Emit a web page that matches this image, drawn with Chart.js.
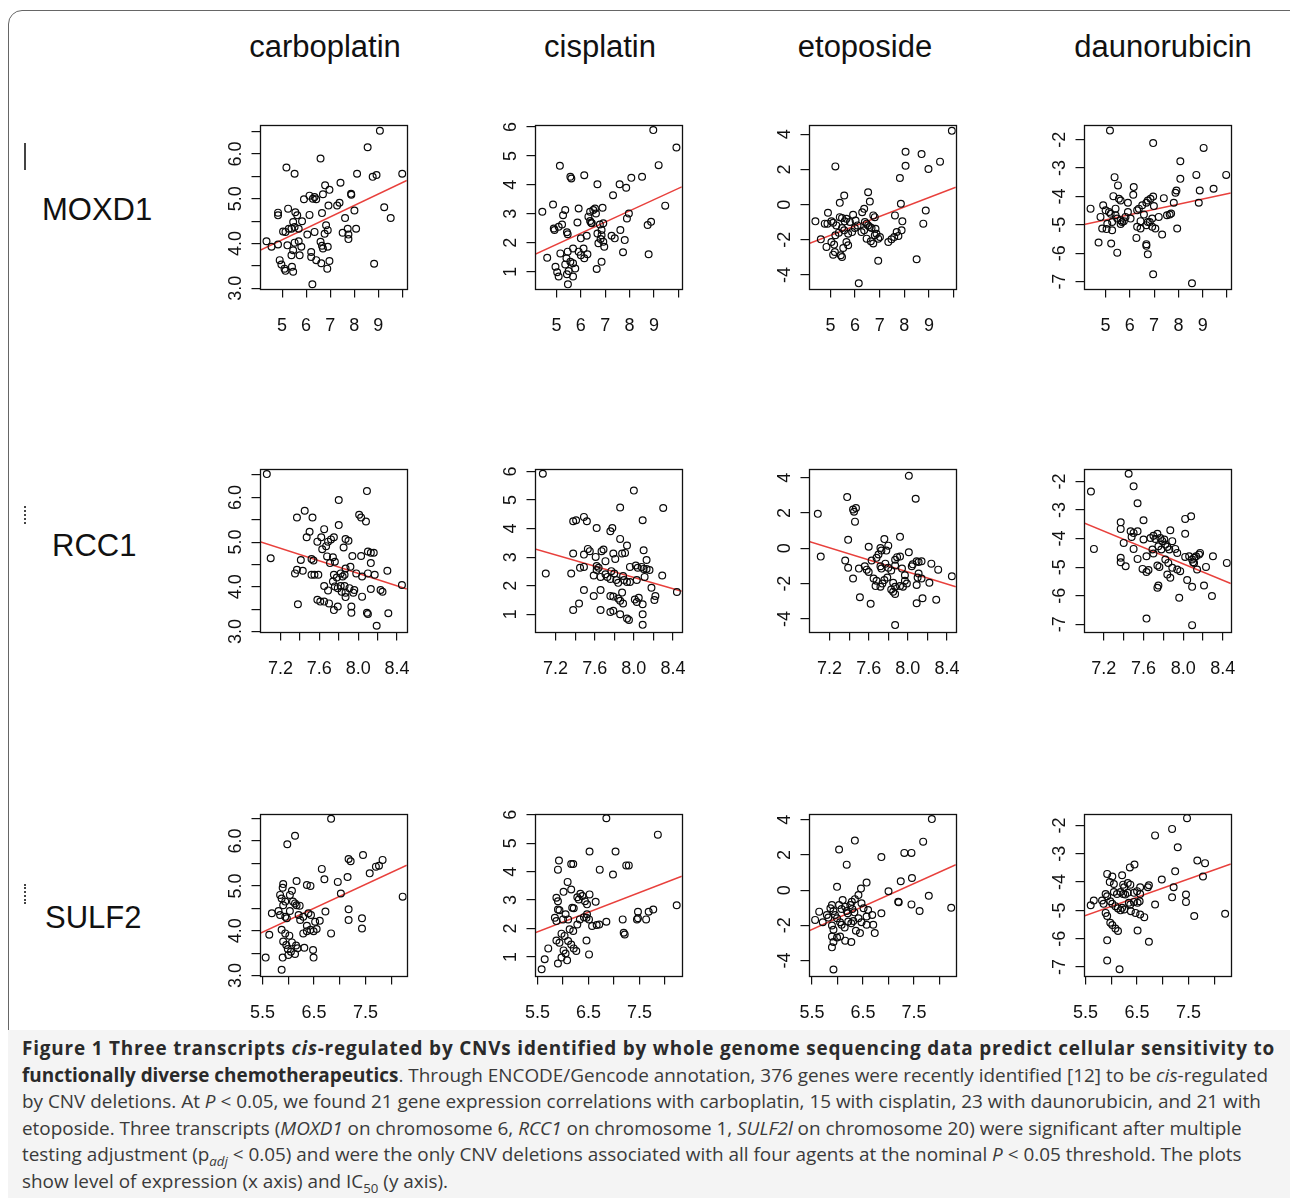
<!DOCTYPE html>
<html>
<head>
<meta charset="utf-8">
<script src="https://cdn.jsdelivr.net/npm/chart.js@4.4.0/dist/chart.umd.min.js"></script>
<style>
  body { margin: 0; width: 1290px; height: 1198px; background: #fff; position: relative; overflow: hidden;
         font-family: "Liberation Sans", Arial, sans-serif; }
  #frame { position: absolute; left: 8px; top: 10px; width: 1300px; height: 1060px;
           border: 1px solid #666; border-radius: 14px; box-sizing: border-box; }
  .title { position: absolute; font-size: 31px; color: #111; transform: translate(-50%, -50%); white-space: nowrap; }
  .gene { position: absolute; font-size: 31px; color: #111; transform: translateY(-50%); white-space: nowrap; }
  .mark { position: absolute; left: 24px; width: 0; border-left: 2px solid #444; }
  canvas { position: absolute; }
  #caption { position: absolute; left: 8px; top: 1030px; width: 1290px; height: 170px; background: #f4f4f4; }
  #captext { position: absolute; left: 22px; top: 1035px; font-family: "Open Sans", "Noto Sans", sans-serif;
             color: #3a3a3a; font-size: 17px; line-height: 26.6px; }
  #captext div { white-space: nowrap; width: max-content; }
  #captext b { color: #2a2a2a; }
  sub { font-size: 0.7em; line-height: 0; }
</style>
</head>
<body>
<div id="frame"></div>
<div id="caption"></div>

<script>
// drugs (columns) and genes (rows)
const drugs = ['carboplatin', 'cisplatin', 'etoposide', 'daunorubicin'];
const genes = ['MOXD1', 'RCC1', 'SULF2'];

// x ticks per gene (row)
const xTicksMOXD1 = [5, 6, 7, 8, 9, 10];
const xLabelsMOXD1 = ['5', '6', '7', '8', '9'];
const xTicksRCC1 = [7.2, 7.4, 7.6, 7.8, 8.0, 8.2, 8.4];
const xLabelsRCC1 = ['7.2', '7.6', '8.0', '8.4'];
const xTicksSULF2 = [5.5, 6.0, 6.5, 7.0, 7.5, 8.0];
const xLabelsSULF2 = ['5.5', '6.5', '7.5'];

// y ticks per drug (column)
const yTicksCarbo = [3.0, 3.5, 4.0, 4.5, 5.0, 5.5, 6.0, 6.5];
const yLabelsCarbo = ['3.0', '4.0', '5.0', '6.0'];
const yTicksCis = [1, 2, 3, 4, 5, 6];
const yLabelsCis = ['1', '2', '3', '4', '5', '6'];
const yTicksEto = [-4, -2, 0, 2, 4];
const yLabelsEto = ['-4', '-2', '0', '2', '4'];
const yTicksDauno = [-7, -6, -5, -4, -3, -2];
const yLabelsDauno = ['-7', '-6', '-5', '-4', '-3', '-2'];

// axis ranges [xmin, xmax, ymin, ymax]
const moxd1CarboRange = [4.08, 10.19, 2.985, 6.644];
const moxd1CisRange = [4.12, 10.14, 0.40, 6.06];
const moxd1EtoRange = [4.13, 10.09, -4.79, 4.51];
const moxd1DaunoRange = [4.11, 10.16, -7.26, -1.49];
const rcc1CarboRange = [6.99, 8.50, 2.99, 6.63];
const rcc1CisRange = [6.99, 8.49, 0.38, 6.08];
const rcc1EtoRange = [6.99, 8.49, -4.74, 4.48];
const rcc1DaunoRange = [7.00, 8.48, -7.27, -1.57];
const sulf2CarboRange = [5.45, 8.30, 2.99, 6.60];
const sulf2CisRange = [5.45, 8.33, 0.33, 6.02];
const sulf2EtoRange = [5.44, 8.32, -4.88, 4.32];
const sulf2DaunoRange = [5.47, 8.32, -7.32, -1.60];

// expression (x) vs IC50 (y)
const moxd1Carbo = [[9.07,6.52],[8.56,6.15],[6.6,5.9],[5.18,5.7],[5.52,5.56],[8.12,5.56],[10.0,5.56],[8.93,5.53],[8.77,5.49],[7.43,5.36],[6.79,5.3],[7.87,5.11],[7.88,5.09],[6.97,5.2],[6.35,5.04],[6.28,5.0],[5.91,4.99],[6.14,5.07],[6.42,4.99],[6.7,5.1],[9.25,4.81],[9.52,4.57],[7.39,4.91],[7.29,4.85],[6.93,4.85],[6.66,4.68],[8.01,4.74],[7.62,4.57],[4.83,4.69],[4.83,4.63],[5.25,4.78],[5.55,4.7],[5.63,4.63],[6.14,4.64],[5.83,4.5],[5.46,4.48],[5.52,4.37],[5.39,4.33],[5.28,4.33],[5.04,4.27],[5.14,4.26],[5.69,4.33],[6.35,4.26],[6.05,4.2],[6.83,4.41],[6.9,4.3],[6.77,4.22],[8.08,4.33],[7.73,4.33],[7.52,4.24],[7.76,4.2],[7.76,4.1],[4.35,4.05],[4.56,3.93],[4.83,3.98],[5.22,3.96],[5.52,4.02],[5.69,4.05],[5.8,3.93],[5.46,3.85],[5.39,3.74],[5.73,3.74],[6.21,3.81],[6.6,4.04],[6.66,3.95],[6.7,3.89],[6.9,3.93],[6.21,3.7],[6.42,3.63],[4.9,3.63],[4.97,3.53],[5.1,3.44],[5.41,3.48],[5.46,3.37],[5.14,3.39],[6.63,3.56],[6.97,3.61],[6.88,3.44],[8.83,3.55],[6.26,3.09]];
const moxd1Cis = [[8.97,5.89],[9.92,5.29],[5.14,4.66],[5.57,4.28],[5.61,4.22],[6.14,4.33],[6.68,4.02],[7.59,4.02],[7.86,3.9],[8.07,4.24],[8.51,4.28],[9.19,4.68],[7.32,3.64],[9.46,3.28],[4.42,3.07],[4.86,3.32],[5.36,3.13],[5.27,2.95],[5.91,3.18],[6.38,3.07],[6.58,3.18],[6.51,3.13],[6.89,3.21],[6.62,3.01],[6.31,2.9],[6.38,2.75],[6.42,2.69],[6.45,2.67],[5.86,2.7],[5.23,2.63],[5.09,2.55],[4.89,2.49],[4.92,2.44],[5.43,2.36],[5.46,2.29],[6.78,2.63],[6.92,2.67],[6.85,2.44],[6.68,2.32],[6.85,2.26],[6.81,2.13],[6.72,1.98],[6.92,2.03],[6.96,1.86],[7.26,2.24],[7.39,2.15],[7.62,2.44],[7.8,2.09],[7.97,3.01],[7.89,2.84],[8.74,2.61],[8.88,2.72],[8.78,1.6],[7.73,1.67],[6.24,2.24],[6.11,1.8],[6.27,1.6],[6.14,1.46],[5.91,1.69],[6.0,1.57],[5.68,1.8],[5.46,1.69],[5.16,1.63],[4.62,1.48],[5.41,1.46],[5.57,1.34],[5.36,1.25],[5.68,1.29],[5.77,1.11],[5.5,1.02],[4.96,1.17],[5.03,0.98],[5.09,0.83],[5.43,0.91],[5.68,0.83],[5.47,0.56],[6.65,1.09],[6.85,1.34],[6.0,2.15]];
const moxd1Eto = [[9.93,4.19],[8.05,3.0],[8.7,2.87],[9.45,2.44],[8.98,2.02],[8.05,2.21],[5.2,2.17],[7.82,1.51],[7.86,0.05],[8.87,-0.33],[8.77,-1.08],[8.5,-3.1],[6.94,-3.19],[6.15,-4.47],[5.56,0.52],[5.38,0.1],[6.53,0.7],[6.6,0.18],[6.37,-0.24],[6.29,-0.43],[6.74,-0.61],[6.8,-0.71],[5.92,-0.58],[4.9,-0.46],[4.39,-0.95],[4.77,-1.08],[4.88,-1.08],[5.04,-0.95],[5.11,-1.03],[5.24,-1.18],[5.38,-0.71],[5.47,-0.76],[5.65,-0.8],[5.58,-0.95],[5.79,-0.99],[6.02,-0.9],[6.1,-1.18],[6.4,-0.99],[6.47,-1.08],[6.53,-1.18],[6.6,-1.27],[6.67,-1.33],[6.37,-1.46],[6.26,-1.56],[6.83,-1.37],[6.8,-1.74],[6.47,-1.93],[6.64,-2.08],[6.74,-2.21],[6.94,-1.93],[7.01,-1.84],[6.87,-1.65],[7.35,-2.12],[7.48,-1.97],[7.59,-1.84],[7.69,-1.56],[7.89,-1.46],[7.76,-1.78],[7.62,-0.61],[7.92,-0.95],[5.47,-1.33],[5.56,-1.46],[5.34,-1.59],[5.2,-1.74],[5.72,-1.65],[5.88,-1.56],[4.61,-1.97],[5.04,-2.12],[5.15,-2.27],[4.84,-2.4],[5.65,-2.12],[5.72,-2.31],[5.52,-2.46],[5.18,-2.69],[5.11,-2.84],[5.42,-2.87],[5.47,-2.97],[5.99,-1.33]];
const moxd1Dauno = [[5.18,-1.68],[6.96,-2.12],[9.04,-2.29],[8.08,-2.76],[8.74,-3.24],[9.97,-3.24],[8.08,-3.38],[5.37,-3.32],[5.51,-3.61],[9.45,-3.73],[8.88,-3.79],[8.84,-4.22],[7.92,-3.79],[7.88,-3.87],[7.81,-4.22],[6.16,-3.67],[6.14,-3.94],[5.32,-3.99],[5.55,-4.08],[5.62,-4.14],[5.92,-4.22],[4.38,-4.43],[4.9,-4.31],[5.0,-4.49],[5.14,-4.55],[5.21,-4.61],[5.41,-4.43],[5.41,-4.66],[5.48,-4.78],[5.62,-4.84],[5.68,-4.9],[5.75,-4.87],[5.27,-4.9],[5.07,-4.96],[4.79,-4.72],[4.86,-5.13],[5.04,-5.15],[5.27,-5.19],[5.82,-4.72],[6.03,-4.78],[5.92,-4.55],[6.3,-4.49],[6.37,-4.43],[6.51,-4.31],[6.68,-4.22],[6.74,-4.14],[6.85,-4.08],[6.96,-4.0],[6.99,-4.34],[6.58,-4.64],[6.44,-4.87],[6.3,-5.07],[6.44,-5.13],[6.68,-5.01],[6.74,-4.9],[6.92,-4.78],[6.82,-4.9],[6.92,-5.07],[7.05,-5.13],[7.19,-4.72],[7.4,-4.06],[7.53,-4.66],[7.64,-4.64],[7.7,-4.6],[7.95,-5.13],[7.33,-5.34],[6.27,-5.46],[5.23,-5.66],[4.71,-5.62],[5.48,-5.98],[6.68,-5.68],[6.68,-5.74],[6.74,-6.04],[6.96,-6.74],[8.56,-7.06],[5.62,-4.97]];

const rcc1Carbo = [[7.06,6.52],[8.09,6.14],[7.8,5.94],[7.45,5.7],[7.37,5.55],[7.53,5.55],[8.01,5.61],[8.03,5.55],[8.08,5.46],[7.8,5.38],[7.5,5.23],[7.47,5.11],[7.65,5.29],[7.62,5.11],[7.58,5.01],[7.69,5.01],[7.72,5.06],[7.75,5.11],[7.67,4.91],[7.63,4.84],[7.87,5.07],[7.9,5.03],[7.85,4.88],[7.1,4.64],[7.41,4.6],[7.52,4.62],[7.54,4.59],[7.68,4.68],[7.74,4.66],[7.71,4.53],[7.76,4.56],[7.94,4.69],[8.03,4.69],[8.1,4.79],[8.13,4.76],[8.16,4.76],[8.13,4.53],[7.87,4.41],[7.92,4.45],[7.98,4.3],[8.04,4.23],[8.1,4.3],[8.17,4.27],[8.3,4.36],[7.37,4.38],[7.35,4.3],[7.43,4.36],[7.52,4.27],[7.55,4.27],[7.59,4.27],[7.75,4.27],[7.78,4.21],[7.82,4.3],[7.84,4.23],[7.86,4.27],[7.65,4.02],[7.74,4.12],[7.76,4.01],[7.79,3.97],[7.82,4.02],[7.86,4.02],[7.69,3.92],[7.83,3.89],[7.87,3.87],[7.91,3.97],[7.96,3.93],[8.13,3.95],[8.23,3.93],[8.25,3.89],[8.45,4.04],[8.04,3.78],[7.87,3.77],[7.58,3.71],[7.61,3.67],[7.65,3.67],[7.7,3.63],[7.38,3.61],[7.79,3.56],[7.75,3.48],[7.93,3.56],[7.93,3.42],[8.09,3.42],[8.1,3.39],[8.31,3.41],[8.19,3.13],[7.95,3.87]];
const rcc1Cis = [[7.07,5.92],[8.0,5.33],[7.86,4.74],[8.3,4.72],[8.09,4.29],[7.38,4.26],[7.41,4.29],[7.49,4.41],[7.52,4.26],[7.62,4.02],[7.76,3.91],[7.78,4.02],[7.86,3.64],[7.93,3.41],[7.53,3.29],[7.55,3.21],[7.38,3.13],[7.49,3.09],[7.61,3.01],[7.67,3.21],[7.69,3.27],[7.79,3.13],[7.88,3.13],[7.91,3.15],[7.71,2.86],[7.81,2.94],[8.1,3.24],[8.13,2.9],[7.1,2.43],[7.36,2.43],[7.45,2.63],[7.49,2.66],[7.62,2.69],[7.64,2.63],[7.62,2.55],[7.59,2.36],[7.66,2.31],[7.71,2.4],[7.73,2.31],[7.76,2.24],[7.77,2.51],[7.8,2.43],[7.82,2.2],[7.84,2.1],[7.89,2.34],[7.9,2.2],[7.96,2.66],[8.02,2.71],[8.04,2.63],[8.08,2.66],[8.1,2.59],[8.13,2.59],[8.16,2.55],[8.11,2.31],[8.29,2.36],[7.93,2.13],[7.96,2.13],[8.03,2.2],[8.18,1.93],[8.44,1.78],[7.49,1.85],[7.59,1.64],[7.66,1.85],[7.76,1.64],[7.79,1.62],[7.84,1.55],[7.86,1.47],[7.89,1.38],[7.88,1.76],[8.01,1.52],[8.03,1.43],[8.05,1.58],[8.22,1.64],[8.21,1.5],[7.44,1.38],[7.38,1.15],[7.66,1.15],[7.76,1.08],[7.79,1.12],[7.86,1.0],[7.93,0.85],[7.95,0.8],[8.09,1.35],[8.09,1.0],[8.09,0.63]];
const rcc1Eto = [[8.01,4.11],[8.08,2.81],[7.38,2.9],[7.44,2.2],[7.45,2.07],[7.47,2.28],[7.08,1.95],[7.46,1.51],[7.39,0.48],[7.76,0.52],[7.92,0.65],[7.11,-0.47],[7.36,-0.69],[7.39,-1.1],[7.44,-1.71],[7.6,0.09],[7.72,0.02],[7.73,-0.13],[7.7,-0.35],[7.68,-0.54],[7.8,0.15],[7.78,-0.13],[8.01,-0.22],[7.89,-0.5],[7.92,-0.47],[7.87,-0.65],[8.09,-0.73],[8.11,-0.78],[8.14,-0.73],[8.24,-0.87],[8.31,-1.21],[8.45,-1.58],[7.56,-1.02],[7.58,-1.21],[7.6,-1.34],[7.5,-1.15],[7.63,-0.69],[7.72,-1.02],[7.73,-1.15],[7.77,-0.87],[7.8,-1.1],[7.83,-1.25],[7.87,-0.97],[7.94,-1.15],[7.97,-1.53],[8.04,-1.02],[8.05,-0.91],[8.11,-1.43],[8.1,-1.66],[8.14,-1.71],[8.09,-2.08],[8.22,-1.95],[8.29,-2.92],[8.15,-2.83],[8.09,-3.11],[7.65,-1.71],[7.68,-1.84],[7.67,-2.14],[7.72,-2.18],[7.74,-1.99],[7.76,-1.8],[7.79,-1.66],[7.85,-1.95],[7.87,-2.18],[7.85,-2.46],[7.87,-2.59],[7.83,-2.33],[7.92,-2.14],[7.95,-2.18],[7.97,-1.84],[7.99,-1.99],[7.51,-2.77],[7.62,-3.14],[7.87,-4.35]];
const rcc1Dauno = [[7.45,-1.73],[7.07,-2.35],[7.5,-2.17],[7.54,-2.76],[7.6,-3.36],[8.08,-3.22],[8.02,-3.31],[8.02,-3.83],[7.87,-3.71],[7.1,-4.36],[7.37,-3.43],[7.37,-3.66],[7.47,-3.74],[7.5,-3.8],[7.54,-3.74],[7.48,-3.94],[7.4,-4.15],[7.5,-4.36],[7.6,-4.03],[7.67,-3.98],[7.7,-3.9],[7.72,-4.01],[7.74,-3.83],[7.77,-3.98],[7.79,-4.09],[7.81,-4.03],[7.82,-4.21],[7.84,-4.29],[7.86,-4.38],[7.89,-4.09],[7.92,-4.36],[7.94,-4.5],[7.75,-4.27],[7.78,-4.38],[7.69,-4.38],[7.7,-4.52],[7.63,-4.62],[7.54,-4.71],[7.37,-4.67],[7.37,-4.83],[7.42,-4.97],[7.59,-5.06],[7.63,-5.17],[7.65,-5.1],[7.74,-4.94],[7.76,-4.99],[7.82,-4.73],[7.85,-4.85],[7.89,-5.02],[7.94,-5.08],[7.97,-5.14],[7.84,-5.26],[7.87,-5.37],[8.02,-4.64],[8.06,-4.62],[8.09,-4.73],[8.11,-4.67],[8.13,-4.62],[8.16,-4.56],[8.17,-4.5],[8.1,-4.83],[8.11,-4.85],[8.14,-5.08],[8.3,-4.62],[8.44,-4.85],[8.23,-4.99],[8.04,-5.45],[8.09,-5.69],[7.74,-5.72],[7.75,-5.64],[8.21,-5.64],[8.29,-6.01],[7.96,-6.07],[7.63,-6.8],[8.09,-7.03]];

const sulf2Carbo = [[6.83,6.5],[6.13,6.12],[5.98,5.93],[7.45,5.69],[7.17,5.6],[7.21,5.55],[7.76,5.45],[7.83,5.58],[7.7,5.43],[7.58,5.28],[6.65,5.38],[6.7,5.15],[7.15,5.2],[6.96,5.09],[8.22,4.76],[7.02,4.83],[6.16,5.11],[5.9,5.04],[5.89,4.96],[6.36,5.02],[6.43,5.0],[6.07,4.89],[6.03,4.8],[5.84,4.8],[5.87,4.72],[5.94,4.65],[5.9,4.57],[6.09,4.65],[6.13,4.61],[6.16,4.57],[6.22,4.56],[6.03,4.44],[5.68,4.39],[5.81,4.44],[5.84,4.35],[5.94,4.31],[5.97,4.28],[6.2,4.35],[6.23,4.24],[6.29,4.31],[6.39,4.39],[6.44,4.35],[6.52,4.2],[6.61,4.22],[6.72,4.43],[6.36,4.11],[6.43,4.02],[6.49,3.99],[6.55,4.04],[7.17,4.24],[7.17,4.48],[7.43,4.28],[7.43,4.05],[6.83,3.94],[5.63,3.91],[5.87,4.02],[5.94,3.94],[6.02,3.89],[6.29,3.94],[6.36,3.99],[5.9,3.76],[5.96,3.68],[6.07,3.74],[6.15,3.67],[6.18,3.61],[5.99,3.59],[6.05,3.53],[6.31,3.62],[6.48,3.57],[5.89,3.4],[6.0,3.46],[6.13,3.48],[6.49,3.4],[5.56,3.4],[5.87,3.13]];
const sulf2Cis = [[6.85,5.88],[7.86,5.3],[6.52,4.71],[7.03,4.71],[5.92,4.39],[5.9,4.07],[6.16,4.27],[6.2,4.27],[7.24,4.22],[7.29,4.22],[6.72,4.07],[6.98,3.9],[6.09,3.64],[6.01,3.29],[6.16,3.37],[6.34,3.22],[6.38,3.14],[6.28,3.1],[6.31,3.02],[5.87,3.08],[5.9,2.96],[6.52,3.2],[6.64,2.94],[6.47,2.85],[6.43,2.96],[5.9,2.67],[5.93,2.64],[6.18,2.73],[6.21,2.71],[6.05,2.5],[5.84,2.38],[5.87,2.26],[6.0,2.32],[6.1,2.32],[6.33,2.32],[6.41,2.4],[6.47,2.5],[6.51,2.32],[6.46,2.38],[6.57,2.09],[6.66,2.12],[6.71,2.14],[6.85,2.24],[7.17,2.32],[7.47,2.59],[7.45,2.32],[7.47,2.36],[7.63,2.32],[7.68,2.59],[7.77,2.67],[8.23,2.82],[7.19,1.85],[7.21,1.79],[5.97,1.82],[6.03,1.74],[6.13,1.97],[6.2,1.91],[6.28,2.14],[5.87,1.58],[5.93,1.5],[6.1,1.56],[6.16,1.44],[6.21,1.3],[6.26,1.21],[6.01,1.23],[6.05,1.12],[6.46,1.58],[5.71,1.3],[5.64,0.92],[5.97,0.98],[6.08,0.88],[6.51,1.09],[5.9,0.77],[5.58,0.57]];
const sulf2Eto = [[7.85,4.04],[6.34,2.82],[6.03,2.31],[7.68,2.76],[7.31,2.12],[7.45,2.12],[6.86,1.88],[6.18,1.45],[7.46,0.69],[7.24,0.51],[7.79,-0.32],[8.23,-1.0],[7.45,-0.81],[7.61,-1.18],[7.19,-0.66],[7.2,-0.69],[7.0,-0.06],[6.57,0.43],[6.46,0.09],[5.99,0.19],[6.41,-0.28],[6.34,-0.51],[6.28,-0.66],[6.1,-0.56],[5.89,-0.85],[5.86,-1.03],[5.64,-1.22],[5.56,-1.69],[5.71,-1.82],[5.79,-1.41],[5.82,-1.56],[5.92,-1.18],[5.95,-1.41],[5.99,-1.6],[6.03,-0.85],[6.08,-1.07],[6.15,-0.94],[6.18,-1.18],[6.2,-1.31],[6.25,-0.85],[6.29,-1.07],[6.33,-1.26],[6.47,-0.75],[6.51,-1.03],[6.6,-1.13],[6.57,-1.5],[6.68,-1.41],[6.86,-1.31],[6.41,-1.6],[6.47,-1.82],[6.05,-1.82],[6.08,-1.97],[6.14,-2.12],[5.89,-2.01],[5.92,-2.25],[6.21,-1.78],[6.27,-1.88],[6.31,-1.75],[6.7,-1.97],[6.73,-2.44],[6.36,-2.31],[6.44,-2.44],[6.57,-1.97],[5.89,-2.63],[6.05,-2.63],[6.15,-2.87],[6.27,-2.95],[5.92,-2.95],[5.89,-3.25],[5.99,-2.69],[5.92,-4.51]];
const sulf2Dauno = [[7.47,-1.74],[7.18,-2.12],[6.85,-2.35],[7.29,-2.77],[7.67,-3.24],[7.82,-3.33],[7.78,-3.8],[7.24,-3.62],[6.98,-3.91],[7.21,-4.18],[6.73,-4.11],[6.71,-4.18],[6.36,-3.48],[6.45,-3.38],[6.21,-3.76],[6.02,-3.8],[5.97,-4.0],[5.92,-3.71],[6.05,-4.07],[6.23,-4.09],[6.25,-4.18],[6.32,-4.03],[6.37,-4.09],[6.56,-4.18],[5.89,-4.42],[5.92,-4.5],[6.05,-4.35],[6.11,-4.42],[6.18,-4.35],[6.23,-4.42],[6.27,-4.44],[6.32,-4.38],[6.44,-4.38],[6.5,-4.32],[6.56,-4.42],[5.66,-4.65],[5.6,-4.82],[5.82,-4.65],[5.85,-4.77],[5.98,-4.68],[6.02,-4.77],[6.08,-4.85],[6.13,-4.93],[6.18,-5.0],[6.21,-4.91],[6.34,-4.73],[6.37,-4.79],[6.44,-4.7],[6.51,-4.73],[6.55,-4.68],[6.25,-4.97],[6.38,-5.03],[6.47,-5.09],[6.56,-5.15],[6.64,-5.24],[7.18,-4.54],[7.45,-4.44],[7.45,-4.7],[6.85,-4.79],[8.21,-5.12],[7.61,-5.2],[5.89,-5.09],[5.92,-5.2],[5.98,-5.44],[6.02,-5.52],[6.08,-5.64],[6.13,-5.73],[6.51,-5.71],[5.92,-6.06],[6.73,-6.11],[5.92,-6.77],[6.16,-7.08]];

// fitted regression lines: two end points [x, y]
const moxd1CarboFit = [[4.08, 3.85], [10.19, 5.41]];
const moxd1CisFit = [[4.12, 1.60], [10.14, 3.93]];
const moxd1EtoFit = [[4.13, -2.21], [10.09, 0.99]];
const moxd1DaunoFit = [[4.11, -4.99], [10.16, -3.88]];
const rcc1CarboFit = [[6.99, 5.01], [8.50, 3.95]];
const rcc1CisFit = [[6.99, 3.29], [8.49, 1.81]];
const rcc1EtoFit = [[6.99, 0.39], [8.49, -2.18]];
const rcc1DaunoFit = [[7.00, -3.45], [8.48, -5.57]];
const sulf2CarboFit = [[5.45, 3.94], [8.30, 5.46]];
const sulf2CisFit = [[5.45, 1.85], [8.33, 3.84]];
const sulf2EtoFit = [[5.44, -2.31], [8.32, 1.45]];
const sulf2DaunoFit = [[5.47, -5.20], [8.32, -3.36]];

// layout of the plot boxes (page pixels)
const colLeft = [260, 534.5, 809, 1083.5];
const rowTop = [124.5, 469, 814];
const rowHeight = [164.5, 163.5, 162.5];
const boxWidth = 147.5;
const padL = 45, padT = 5, padR = 5, padB = 50;

const rowX = [
    { ticks: xTicksMOXD1, labels: xLabelsMOXD1 },
    { ticks: xTicksRCC1, labels: xLabelsRCC1 },
    { ticks: xTicksSULF2, labels: xLabelsSULF2 }
];
const colY = [
    { ticks: yTicksCarbo, labels: yLabelsCarbo },
    { ticks: yTicksCis, labels: yLabelsCis },
    { ticks: yTicksEto, labels: yLabelsEto },
    { ticks: yTicksDauno, labels: yLabelsDauno }
];
const panelData = [
    [moxd1Carbo, moxd1Cis, moxd1Eto, moxd1Dauno],
    [rcc1Carbo, rcc1Cis, rcc1Eto, rcc1Dauno],
    [sulf2Carbo, sulf2Cis, sulf2Eto, sulf2Dauno]
];
const panelFit = [
    [moxd1CarboFit, moxd1CisFit, moxd1EtoFit, moxd1DaunoFit],
    [rcc1CarboFit, rcc1CisFit, rcc1EtoFit, rcc1DaunoFit],
    [sulf2CarboFit, sulf2CisFit, sulf2EtoFit, sulf2DaunoFit]
];
const panelRange = [
    [moxd1CarboRange, moxd1CisRange, moxd1EtoRange, moxd1DaunoRange],
    [rcc1CarboRange, rcc1CisRange, rcc1EtoRange, rcc1DaunoRange],
    [sulf2CarboRange, sulf2CisRange, sulf2EtoRange, sulf2DaunoRange]
];

// R-style box and tick labels (y labels rotated, like las = 0)
const rAxes = {
    id: 'rAxes',
    afterDraw(chart, args, opts) {
        const { ctx, chartArea: a, scales: { x, y } } = chart;
        ctx.save();
        ctx.strokeStyle = '#111';
        ctx.lineWidth = 1.3;
        ctx.strokeRect(Math.round(a.left) + 0.5, Math.round(a.top) + 0.5,
            Math.round(a.right - a.left), Math.round(a.bottom - a.top));
        ctx.fillStyle = '#111';
        ctx.font = '18px "Liberation Sans", Arial, sans-serif';
        ctx.textAlign = 'center';
        ctx.textBaseline = 'middle';
        opts.xLabels.forEach(t => {
            ctx.fillText(t, x.getPixelForValue(parseFloat(t)), a.bottom + 37);
        });
        opts.yLabels.forEach(t => {
            ctx.save();
            ctx.translate(a.left - 23.5, y.getPixelForValue(parseFloat(t)));
            ctx.rotate(-Math.PI / 2);
            ctx.fillText(t, 0, 0);
            ctx.restore();
        });
        ctx.restore();
    }
};

function makePanel(r, c) {
    const range = panelRange[r][c];
    const boxH = rowHeight[r];
    const canvas = document.createElement('canvas');
    canvas.width = padL + boxWidth + padR;
    canvas.height = padT + boxH + padB;
    canvas.style.left = (colLeft[c] - padL) + 'px';
    canvas.style.top = (rowTop[r] - padT) + 'px';
    document.body.appendChild(canvas);

    const xt = rowX[r], yt = colY[c];
    new Chart(canvas, {
        type: 'scatter',
        data: {
            datasets: [
                {
                    data: panelData[r][c].map(p => ({ x: p[0], y: p[1] })),
                    pointRadius: 3.4,
                    pointBorderWidth: 1.2,
                    borderColor: '#0a0a0a',
                    backgroundColor: 'rgba(0,0,0,0)'
                },
                {
                    data: panelFit[r][c].map(p => ({ x: p[0], y: p[1] })),
                    showLine: true,
                    pointRadius: 0,
                    borderColor: '#e8403c',
                    borderWidth: 1.5
                }
            ]
        },
        options: {
            responsive: false,
            animation: false,
            devicePixelRatio: 1,
            events: [],
            layout: { padding: { left: 0, top: padT, right: padR, bottom: 0 } },
            plugins: {
                legend: { display: false },
                tooltip: { enabled: false },
                rAxes: { xLabels: xt.labels, yLabels: yt.labels }
            },
            scales: {
                x: {
                    type: 'linear', min: range[0], max: range[1],
                    afterBuildTicks: s => { s.ticks = xt.ticks.map(v => ({ value: v })); },
                    afterFit: s => { s.height = padB; },
                    ticks: { display: false },
                    grid: { drawOnChartArea: false, drawTicks: true, tickLength: 8.5, color: '#111', lineWidth: 1.2 },
                    border: { display: false }
                },
                y: {
                    type: 'linear', min: range[2], max: range[3],
                    afterBuildTicks: s => { s.ticks = yt.ticks.map(v => ({ value: v })); },
                    afterFit: s => { s.width = padL; },
                    ticks: { display: false },
                    grid: { drawOnChartArea: false, drawTicks: true, tickLength: 8.5, color: '#111', lineWidth: 1.2 },
                    border: { display: false }
                }
            }
        },
        plugins: [rAxes]
    });
}

// column titles and row labels
const titleX = [325, 600, 865, 1163];
drugs.forEach((d, i) => {
    const el = document.createElement('div');
    el.className = 'title';
    el.textContent = d;
    el.style.left = titleX[i] + 'px';
    el.style.top = '47px';
    document.body.appendChild(el);
});
const geneLeft = [42, 52, 45];
const geneY = [210, 546, 918];
genes.forEach((g, i) => {
    const el = document.createElement('div');
    el.className = 'gene';
    el.textContent = g;
    el.style.left = geneLeft[i] + 'px';
    el.style.top = geneY[i] + 'px';
    document.body.appendChild(el);
});
// little marks at the left edge
[[143, 27, 'solid'], [506, 18, 'dotted'], [884, 20, 'dotted']].forEach(m => {
    const el = document.createElement('div');
    el.className = 'mark';
    el.style.top = m[0] + 'px';
    el.style.height = m[1] + 'px';
    el.style.borderLeftStyle = m[2];
    document.body.appendChild(el);
});

for (let r = 0; r < 3; r++) {
    for (let c = 0; c < 4; c++) makePanel(r, c);
}
</script>

<div id="captext">
  <div id="cap1"><b>Figure 1 Three transcripts <i>cis</i>-regulated by CNVs identified by whole genome sequencing data predict cellular sensitivity to</b></div>
  <div><b>functionally diverse chemotherapeutics</b>. Through ENCODE/Gencode annotation, 376 genes were recently identified [12] to be <i>cis</i>-regulated</div>
  <div id="cap3">by CNV deletions. At <i>P</i> &lt; 0.05, we found 21 gene expression correlations with carboplatin, 15 with cisplatin, 23 with daunorubicin, and 21 with</div>
  <div>etoposide. Three transcripts (<i>MOXD1</i> on chromosome 6, <i>RCC1</i> on chromosome 1, <i>SULF2l</i> on chromosome 20) were significant after multiple</div>
  <div>testing adjustment (p<sub><i>adj</i></sub> &lt; 0.05) and were the only CNV deletions associated with all four agents at the nominal <i>P</i> &lt; 0.05 threshold. The plots</div>
  <div>show level of expression (x axis) and IC<sub>50</sub> (y axis).</div>
</div>
<script>
// fit caption size to the reference line widths
(function () {
    const box = document.getElementById('captext');
    const l3 = document.getElementById('cap3');
    const w = l3.getBoundingClientRect().width;
    box.style.fontSize = (17 * 1240 / w) + 'px';
    const l1 = document.getElementById('cap1');
    const w1 = l1.getBoundingClientRect().width;
    const chars = l1.textContent.trim().length;
    l1.style.letterSpacing = ((1253 - w1) / chars) + 'px';
})();
</script>
</body>
</html>
